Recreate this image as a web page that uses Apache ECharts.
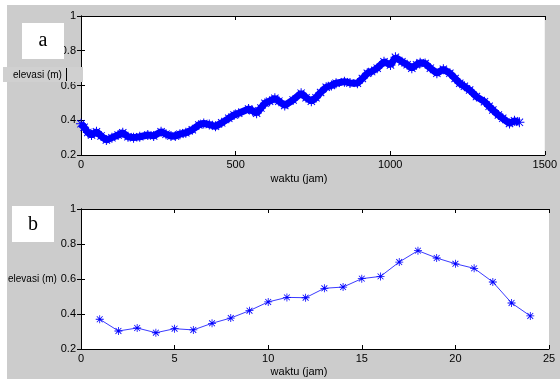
<!DOCTYPE html>
<html>
<head>
<meta charset="utf-8">
<script src="https://cdn.jsdelivr.net/npm/echarts@6/dist/echarts.min.js"></script>
<style>
  html, body { margin: 0; padding: 0; background: #ffffff; }
  #chart { width: 560px; height: 379px; }
</style>
</head>
<body>
<div id="chart"></div>
<script>
// Hourly elevation record (panel a): hours and elevation in metres
const topHours = [0, 10, 22, 34, 50, 65, 82, 100, 120, 135, 152, 170, 190, 216, 235, 259, 275, 291, 305, 320,
  339, 360, 381, 397, 415, 435, 455, 478, 495, 510, 542, 555, 568, 582, 595, 610, 627, 640, 659, 686,
  712, 728, 745, 760, 775, 793, 810, 825, 852, 870, 894, 910, 926, 940, 958, 980, 1001, 1017, 1038, 1055,
  1070, 1085, 1097, 1113, 1130, 1151, 1172, 1193, 1210, 1225, 1240, 1257, 1279, 1305, 1320, 1332, 1350, 1364, 1386, 1402, 1418];
const topElev = [0.38, 0.36, 0.33, 0.315, 0.334, 0.31, 0.286, 0.30, 0.315, 0.328, 0.305, 0.30, 0.305, 0.315, 0.31, 0.334, 0.32, 0.309, 0.31, 0.32,
  0.328, 0.345, 0.373, 0.382, 0.375, 0.365, 0.385, 0.411, 0.43, 0.44, 0.465, 0.455, 0.44, 0.47, 0.498, 0.51, 0.526, 0.51, 0.485, 0.517,
  0.556, 0.53, 0.51, 0.53, 0.56, 0.59, 0.60, 0.613, 0.622, 0.615, 0.613, 0.64, 0.67, 0.68, 0.70, 0.737, 0.718, 0.762, 0.737, 0.72,
  0.70, 0.72, 0.731, 0.727, 0.70, 0.67, 0.693, 0.67, 0.64, 0.613, 0.595, 0.574, 0.536, 0.507, 0.48, 0.459, 0.43, 0.411, 0.382, 0.397, 0.388];

// Panel b: 24 hourly values
const botHours = [1, 2, 3, 4, 5, 6, 7, 8, 9, 10, 11, 12, 13, 14, 15, 16, 17, 18, 19, 20, 21, 22, 23, 24];
const botElev = [0.37, 0.303, 0.32, 0.293, 0.316, 0.309, 0.347, 0.377, 0.419, 0.469, 0.495, 0.493,
  0.547, 0.554, 0.602, 0.615, 0.697, 0.762, 0.72, 0.687, 0.661, 0.583, 0.463, 0.389];

const yTicks = [0.2, 0.4, 0.6, 0.8, 1];
const topXTicks = [0, 500, 1000, 1500];
const botXTicks = [0, 5, 10, 15, 20, 25];

const yLabel = 'elevasi (m)';
const xLabel = 'waktu (jam)';

// Eight-armed asterisk marker
const asterisk = 'path://M4.5 0H5.5V10H4.5Z M0 4.5H10V5.5H0Z M1 1.7L1.7 1L9 8.3L8.3 9Z M8.3 1L9 1.7L1.7 9L1 8.3Z';

const FONT = '"Liberation Sans", Arial, sans-serif';

function fmtY(v) {
  return v === 1 ? '1' : String(Math.round(v * 10) / 10);
}

function axisPair(kind, gridIndex, min, max, interval) {
  const base = {
    type: 'value', gridIndex, min, max, interval,
    axisLine: { show: true, lineStyle: { color: '#000', width: 1 } },
    axisTick: { show: true, inside: true, length: 4, lineStyle: { color: '#000' } },
    splitLine: { show: false }
  };
  const main = Object.assign({}, base, {
    position: kind === 'x' ? 'bottom' : 'left',
    axisLabel: {
      show: true, color: '#000', fontFamily: FONT, fontSize: 11,
      margin: kind === 'x' ? 4 : 5,
      formatter: kind === 'y' ? fmtY : (v) => String(v)
    }
  });
  const mirror = Object.assign({}, base, {
    position: kind === 'x' ? 'top' : 'right',
    axisLabel: { show: false }
  });
  return [main, mirror];
}

const xAxes = [
  ...axisPair('x', 0, topXTicks[0], topXTicks[topXTicks.length - 1], 500),
  ...axisPair('x', 1, botXTicks[0], botXTicks[botXTicks.length - 1], 5)
];
const yAxes = [
  ...axisPair('y', 0, yTicks[0], yTicks[yTicks.length - 1], 0.2),
  ...axisPair('y', 1, yTicks[0], yTicks[yTicks.length - 1], 0.2)
];

const chart = echarts.init(document.getElementById('chart'), null, { renderer: 'canvas' });

chart.setOption({
  backgroundColor: '#ffffff',
  animation: false,
  grid: [
    { left: 81, top: 16, width: 468, height: 139, show: true, backgroundColor: '#ffffff', borderWidth: 0 },
    { left: 81, top: 209, width: 468, height: 140, show: true, backgroundColor: '#ffffff', borderWidth: 0 }
  ],
  xAxis: xAxes,
  yAxis: yAxes,
  series: [
    {
      type: 'line', xAxisIndex: 0, yAxisIndex: 0,
      data: topHours.map((h, i) => [h, topElev[i]]),
      showSymbol: true, showAllSymbol: true,
      symbol: asterisk, symbolSize: 10,
      itemStyle: { color: '#0000ff' },
      lineStyle: { color: '#0000ff', width: 7 },
      z: 3
    },
    {
      type: 'line', xAxisIndex: 2, yAxisIndex: 2,
      data: botHours.map((h, i) => [h, botElev[i]]),
      showSymbol: true, showAllSymbol: true,
      symbol: asterisk, symbolSize: 8,
      itemStyle: { color: '#0000ff' },
      lineStyle: { color: '#3b3bff', width: 1 },
      z: 3
    }
  ],
  graphic: [
    // grey figure window
    { type: 'rect', shape: { x: 7, y: 5, width: 553, height: 374 }, style: { fill: '#cccccc' }, z: -10, silent: true },
    // panel tags
    { type: 'rect', shape: { x: 22, y: 23, width: 42, height: 36 }, style: { fill: '#ffffff' }, z: 20 },
    { type: 'text', x: 43, y: 41, style: { text: 'a', font: '20px "Liberation Serif", "Times New Roman", serif', fill: '#000', align: 'center', verticalAlign: 'middle' }, z: 21 },
    { type: 'rect', shape: { x: 12, y: 206, width: 42, height: 36 }, style: { fill: '#ffffff' }, z: 20 },
    { type: 'text', x: 33, y: 225, style: { text: 'b', font: '20px "Liberation Serif", "Times New Roman", serif', fill: '#000', align: 'center', verticalAlign: 'middle' }, z: 21 },
    // y-axis titles
    { type: 'rect', shape: { x: 3, y: 67, width: 80, height: 15 }, style: { fill: '#d0d0d0' }, z: 20 },
    { type: 'text', x: 13, y: 75, style: { text: yLabel, font: '10px ' + FONT, fill: '#000', verticalAlign: 'middle' }, z: 21 },
    { type: 'rect', shape: { x: 66, y: 68, width: 1, height: 13 }, style: { fill: '#000' }, z: 21 },
    { type: 'text', x: 8, y: 279, style: { text: yLabel, font: '10px ' + FONT, fill: '#000', verticalAlign: 'middle' }, z: 21 },
    // x-axis titles
    { type: 'text', x: 299, y: 179, style: { text: xLabel, font: '11px ' + FONT, fill: '#000', align: 'center', verticalAlign: 'middle' }, z: 21 },
    { type: 'text', x: 299, y: 372, style: { text: xLabel, font: '11px ' + FONT, fill: '#000', align: 'center', verticalAlign: 'middle' }, z: 21 }
  ]
});
</script>
</body>
</html>
